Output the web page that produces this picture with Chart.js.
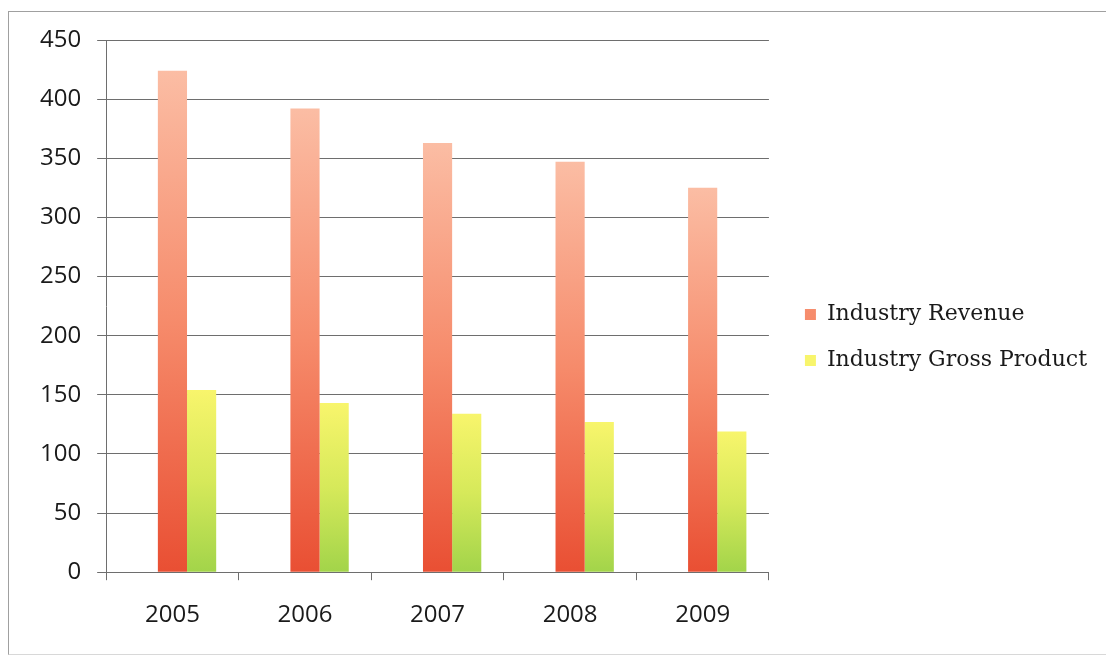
<!DOCTYPE html>
<html>
<head>
<meta charset="utf-8">
<script src="https://cdn.jsdelivr.net/npm/chart.js@4"></script>
<style>
  html, body { margin: 0; padding: 0; background: #fff; }
  #wrap { position: relative; width: 1106px; height: 656px; overflow: hidden; }
  #frame {
    position: absolute; left: 8px; top: 11px; width: 1120px; height: 642px;
    border: 1px solid #a0a0a0; border-bottom-color: #d8d8d8;
  }
  canvas { position: absolute; left: 0; top: 0; }
</style>
</head>
<body>
<div id="wrap">
  <div id="frame"></div>
  <canvas id="chart" width="1106" height="656"></canvas>
</div>
<script>
const years = ["2005", "2006", "2007", "2008", "2009"];
const revenue = [424, 392, 363, 347, 325];
const grossProduct = [154, 143, 134, 127, 119];
const yTicks = [0, 50, 100, 150, 200, 250, 300, 350, 400, 450];

// empty leading series, keeps the bar pair right of the category centre
const blank = years.map(() => null);

/* ================== HELPERS ================== */
function barGradient(stops, flat) {
  return ctx => {
    const chart = ctx.chart;
    const y = chart.scales.y;
    if (ctx.type !== "data" || !y) return flat;
    const v = ctx.dataset.data[ctx.dataIndex];
    if (v == null) return flat;
    const top = y.getPixelForValue(v);
    const base = y.getPixelForValue(0);
    if (!isFinite(top) || !isFinite(base)) return flat;
    const g = chart.ctx.createLinearGradient(0, top, 0, base);
    stops.forEach(([at, c]) => g.addColorStop(at, c));
    return g;
  };
}

// nudge the legend box a little away from the plot
const legendNudge = {
  id: "legendNudge",
  afterLayout(chart) {
    const lg = chart.legend;
    if (!lg) return;
    lg.left += 12; lg.right += 12;
    lg.top -= 8; lg.bottom -= 8;
  }
};

const tickFont = { family: "'Open Sans', sans-serif", size: 24 };
const lineGrey = "#6e6e6e";

new Chart(document.getElementById("chart"), {
  type: "bar",
  plugins: [legendNudge],
  data: {
    labels: years,
    datasets: [
      { label: "", data: blank, backgroundColor: "transparent" },
      {
        label: "Industry Revenue",
        data: revenue,
        backgroundColor: barGradient(
          [[0, "#fbbda4"], [0.5, "#f68b6b"], [1, "#e94f33"]], "#f27a58")
      },
      {
        label: "Industry Gross Product",
        data: grossProduct,
        backgroundColor: barGradient(
          [[0, "#f8f56c"], [0.5, "#d6e95a"], [1, "#a2d44a"]], "#c9e35c")
      }
    ]
  },
  options: {
    responsive: false,
    animation: false,
    layout: { padding: { top: 40, left: 24, right: 21, bottom: 5 } },
    datasets: { bar: { categoryPercentage: 0.66, barPercentage: 1 } },
    plugins: {
      tooltip: { enabled: false },
      legend: {
        position: "right",
        maxWidth: 360,
        labels: {
          filter: item => item.text !== "",
          boxWidth: 11,
          boxHeight: 11,
          padding: 24,
          color: "#1a1a1a",
          font: { family: "'DejaVu Serif', serif", size: 22 }
        }
      }
    },
    scales: {
      x: {
        grid: {
          drawOnChartArea: false,
          drawTicks: true,
          tickLength: 8,
          color: lineGrey
        },
        border: { color: lineGrey },
        ticks: { color: "#1a1a1a", font: tickFont, padding: 21 }
      },
      y: {
        min: 0,
        max: 450,
        afterBuildTicks: axis => { axis.ticks = yTicks.map(v => ({ value: v })); },
        grid: { color: lineGrey, tickLength: 9 },
        border: { color: lineGrey },
        ticks: { color: "#1a1a1a", font: tickFont, padding: 16 }
      }
    }
  }
});
</script>
</body>
</html>
